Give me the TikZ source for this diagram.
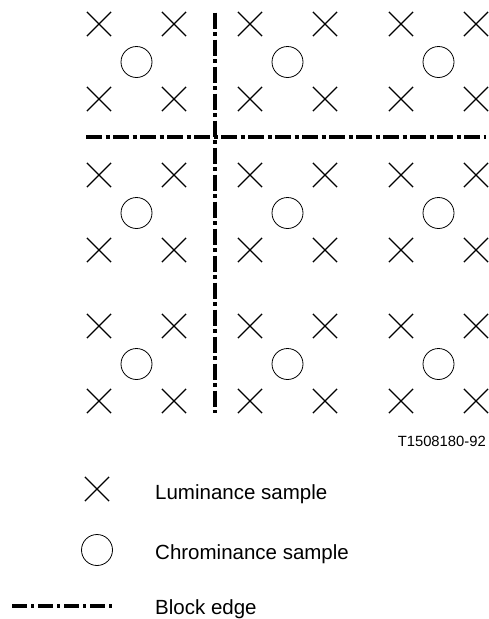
\documentclass[tikz,border=0pt]{standalone}
\usepackage{fontspec}
\setmainfont{Liberation Sans}
\usetikzlibrary{shapes.misc}
\begin{document}
\begin{tikzpicture}[x=1pt,y=-1pt,
  lum/.style={draw,cross out,minimum size=23pt,inner sep=0pt,line width=1.2pt},
  chr/.style={draw,circle,minimum size=31pt,inner sep=0pt,line width=0.8pt},
  blockedge/.style={line width=3.6pt,dash pattern=on 16pt off 3.5pt on 4pt off 3.5pt},
  legendtext/.style={anchor=base west,inner sep=0pt,font=\fontsize{20.5}{24}\selectfont},
  labeltext/.style={anchor=base east,inner sep=0pt,font=\fontsize{14.8}{18}\selectfont}]
\useasboundingbox (0,0) rectangle (489,619);
% luminance samples
\foreach \c/\x in {1/99,2/174,3/250,4/325,5/401,6/476}{
  \foreach \r/\y in {1/24,2/99,3/175,4/250,5/326,6/401}{
    \node[lum] (l-\r-\c) at (\x,\y) {};
  }
}
% chrominance samples
\foreach \c/\x in {1/136.5,2/287.5,3/438.5}{
  \foreach \r/\y in {1/62,2/213,3/364}{
    \node[chr] (c-\r-\c) at (\x,\y) {};
  }
}
% block edges
\coordinate (vtop) at (215,12.5);
\coordinate (vbot) at (215,413);
\coordinate (hleft) at (86,137);
\coordinate (hright) at (486,137);
\draw[blockedge] (vtop) -- (vbot);
\draw[blockedge] (hleft) -- (hright);
% figure number
\node[labeltext] (fig) at (486,446) {T1508180-92};
% legend
\node[lum] (leg-lum) at (97,489) {};
\node[legendtext] (leg-lum-t) at (155,499) {Luminance sample};
\node[chr] (leg-chr) at (97,550) {};
\node[legendtext] (leg-chr-t) at (155,559) {Chrominance sample};
\coordinate (leg-be-l) at (12,606);
\coordinate (leg-be-r) at (115,606);
\draw[blockedge,dash pattern=on 15pt off 4pt on 3pt off 4pt] (leg-be-l) -- (leg-be-r);
\node[legendtext] (leg-be-t) at (155,614) {Block edge};
\end{tikzpicture}
\end{document}
